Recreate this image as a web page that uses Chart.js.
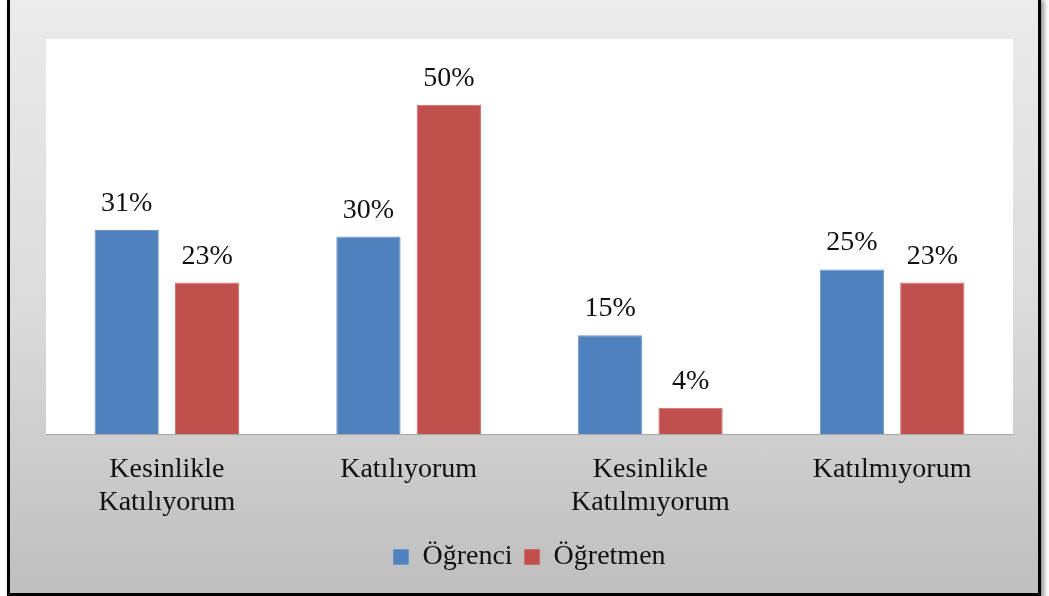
<!DOCTYPE html>
<html>
<head>
<meta charset="utf-8">
<script src="https://cdn.jsdelivr.net/npm/chart.js@4/dist/chart.umd.min.js"></script>
<style>
  html, body { margin: 0; padding: 0; background: #fff; }
  body { width: 1049px; height: 596px; position: relative; overflow: hidden; }
  #frame {
    position: absolute; left: 7px; top: -3px; width: 1028px; height: 593px;
    border: 3px solid #000;
    background: linear-gradient(to bottom, #ebebeb 0%, #dcdcdc 50%, #bfbfbf 100%);
    box-shadow: 3px 3px 5px rgba(0,0,0,0.45);
  }
  #wrap { position: absolute; left: 0; top: 0; width: 1028px; height: 593px; }
</style>
</head>
<body>
<div id="frame"><div id="wrap"><canvas id="chart"></canvas></div></div>
<script>
// Categories and series values (percentages).
const categories = [['Kesinlikle', 'Katılıyorum'], 'Katılıyorum', ['Kesinlikle', 'Katılmıyorum'], 'Katılmıyorum'];
const ogrenci = [31, 30, 15, 25];
const ogretmen = [23, 50, 4, 23];

const fontFamily = '"Liberation Serif", "Times New Roman", serif';

// White plot area behind the bars.
const plotBackground = {
    id: 'plotBackground',
    beforeDraw(chart) {
        const {ctx, chartArea} = chart;
        ctx.save();
        ctx.fillStyle = '#ffffff';
        ctx.fillRect(chartArea.left, chartArea.top, chartArea.right - chartArea.left, chartArea.bottom - chartArea.top);
        ctx.restore();
    }
};

// Percent labels above each bar.
const barLabels = {
    id: 'barLabels',
    afterDatasetsDraw(chart) {
        const ctx = chart.ctx;
        ctx.save();
        ctx.font = '28px ' + fontFamily;
        ctx.fillStyle = '#111';
        ctx.textAlign = 'center';
        ctx.textBaseline = 'alphabetic';
        chart.data.datasets.forEach((ds, i) => {
            chart.getDatasetMeta(i).data.forEach((bar, j) => {
                ctx.fillText(ds.data[j] + '%', bar.x, bar.y - 19);
            });
        });
        ctx.restore();
    }
};

new Chart(document.getElementById('chart'), {
    type: 'bar',
    data: {
        labels: categories,
        datasets: [{
            label: 'Öğrenci',
            data: ogrenci,
            backgroundColor: '#4f81bd',
            borderColor: '#6c97cb',
            borderWidth: 1
        }, {
            label: 'Öğretmen',
            data: ogretmen,
            backgroundColor: '#c0504d',
            borderColor: '#d06a67',
            borderWidth: 1
        }]
    },
    options: {
        responsive: true,
        maintainAspectRatio: false,
        animation: false,
        categoryPercentage: 0.665,
        barPercentage: 0.8,
        layout: {
            padding: {left: 36, right: 25, top: 39, bottom: 12}
        },
        plugins: {
            tooltip: {enabled: false},
            legend: {
                position: 'bottom',
                labels: {
                    font: {family: fontFamily, size: 28},
                    color: '#111',
                    boxWidth: 15,
                    boxHeight: 15,
                    padding: 12
                }
            }
        },
        scales: {
            x: {
                grid: {display: false},
                border: {display: true, color: '#a6a6a6', width: 1},
                ticks: {
                    font: {family: fontFamily, size: 28, lineHeight: 1.15},
                    color: '#111',
                    padding: 12,
                    maxRotation: 0
                },
                afterFit(scale) {
                    scale.height = 97;
                }
            },
            y: {
                display: false,
                min: 0,
                max: 60
            }
        }
    },
    plugins: [plotBackground, barLabels]
});
</script>
</body>
</html>
